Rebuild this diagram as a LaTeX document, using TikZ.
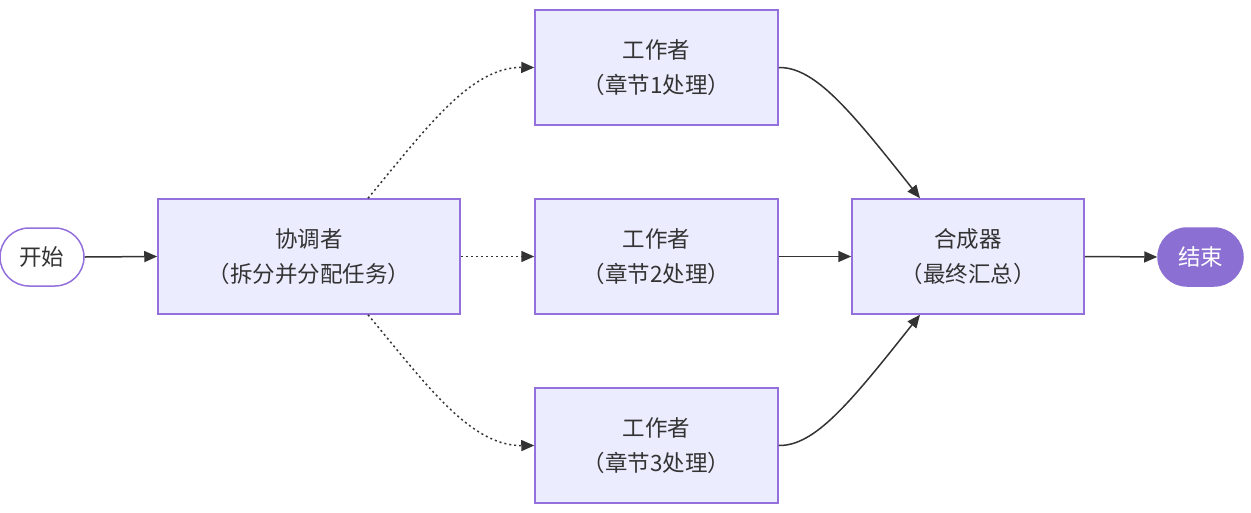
\documentclass[tikz,border=0pt]{standalone}
\usepackage{fontspec}
\setmainfont{Noto Sans CJK SC}
\usetikzlibrary{arrows.meta}
\definecolor{boxfill}{HTML}{ECECFF}
\definecolor{boxline}{HTML}{9370DB}
\definecolor{edgec}{HTML}{333333}
\definecolor{endfill}{HTML}{8C6FD2}
\tikzset{
  box/.style={draw=boxline, fill=boxfill, line width=1.5pt, align=center, text=edgec,
    font=\fontsize{22.5pt}{35pt}\selectfont, inner sep=0pt},
  pill/.style={draw=boxline, line width=1.5pt, rounded corners=29pt, minimum height=58pt,
    inner sep=0pt, font=\fontsize{22.5pt}{26pt}\selectfont},
  edge/.style={draw=edgec, line width=1.5pt, -{Triangle[length=13pt,width=11pt]}},
  dots/.style={edge, dash pattern=on 2pt off 3pt},
}
\begin{document}
\begin{tikzpicture}[x=1pt,y=-1pt]
\useasboundingbox (0,0) rectangle (1251,512);
\node[pill, fill=white, text=edgec, minimum width=84pt] (start) at (42,257) {开始};
\node[box, minimum width=302pt, minimum height=115pt] (coord) at (309,256.5) {\raisebox{0pt}{协调者}\\（拆分并分配任务）};
\node[box, minimum width=243pt, minimum height=115pt] (w1) at (656.5,67.5) {工作者\\（章节1处理）};
\node[box, minimum width=243pt, minimum height=115pt] (w2) at (656.5,256.5) {工作者\\（章节2处理）};
\node[box, minimum width=243pt, minimum height=115pt] (w3) at (656.5,445.5) {工作者\\（章节3处理）};
\node[box, minimum width=232pt, minimum height=115pt] (syn) at (968,256.5) {合成器\\（最终汇总）};
\node[pill, draw=endfill, fill=endfill, text=white, minimum width=85pt] (end) at (1200.5,257) {结束};

\draw[edge] (start.east) -- (coord.west);
\draw[dots] ([xshift=59pt]coord.north) .. controls (425,130) and (470,67) .. (w1.west);
\draw[dots] (coord.east) -- (w2.west);
\draw[dots] ([xshift=59pt]coord.south) .. controls (425,383) and (470,446) .. (w3.west);
\draw[edge] (w1.east) .. controls (815,67) and (850,110) .. ([xshift=-48pt]syn.north);
\draw[edge] (w2.east) -- (syn.west);
\draw[edge] (w3.east) .. controls (815,446) and (850,403) .. ([xshift=-48pt]syn.south);
\draw[edge] (syn.east) -- (end.west);
\end{tikzpicture}
\end{document}
